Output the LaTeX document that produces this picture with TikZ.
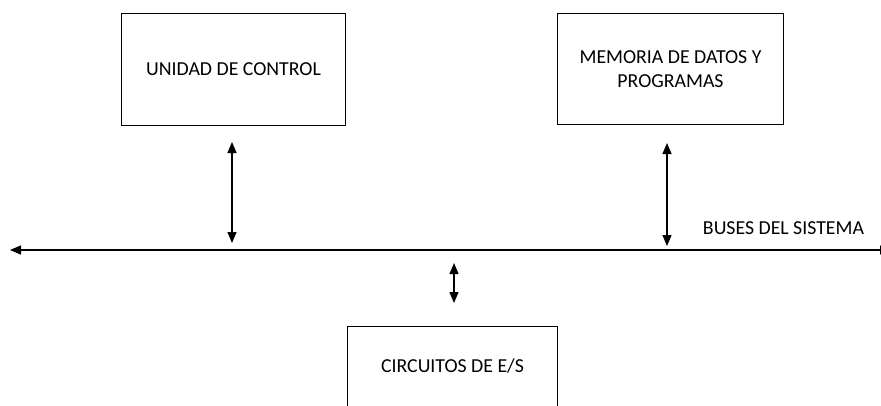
\documentclass[tikz,border=0pt]{standalone}
\usepackage{fontspec}
\setmainfont{Carlito}
\usetikzlibrary{arrows.meta}
\begin{document}
\begin{tikzpicture}[x=1pt,y=-1pt,
  blockbox/.style={draw=black,line width=1.8pt,inner sep=0pt,align=center,
    font=\fontsize{19.8}{24}\selectfont},
  link/.style={line width=1.3pt,{Triangle[length=11pt,width=9pt]}-{Triangle[length=11pt,width=9pt]}},
  lbl/.style={font=\fontsize{19.8}{24}\selectfont,inner sep=0pt}]
\useasboundingbox (0,0) rectangle (881,405);
\node[blockbox,minimum width=224pt,minimum height=112pt] (uc) at (233.5,69.5) {UNIDAD DE CONTROL};
\node[blockbox,minimum width=226pt,minimum height=111pt] (mem) at (670.5,69) {MEMORIA DE DATOS Y\\PROGRAMAS};
\node[blockbox,minimum width=210pt,minimum height=80pt] (es) at (452.5,366.5) {CIRCUITOS DE E/S};
\node[lbl] (buslbl) at (783.5,228) {BUSES DEL SISTEMA};
\coordinate (busL) at (10,250);
\coordinate (busR) at (891,250);
\coordinate (ucA) at (232,142);
\coordinate (ucB) at (232,243);
\coordinate (memA) at (667,143);
\coordinate (memB) at (667,246);
\coordinate (esA) at (454,263);
\coordinate (esB) at (454,303);
\draw[link] (busL) -- (busR);
\draw[link] (ucA) -- (ucB);
\draw[link] (memA) -- (memB);
\draw[link] (esA) -- (esB);
\end{tikzpicture}
\end{document}
